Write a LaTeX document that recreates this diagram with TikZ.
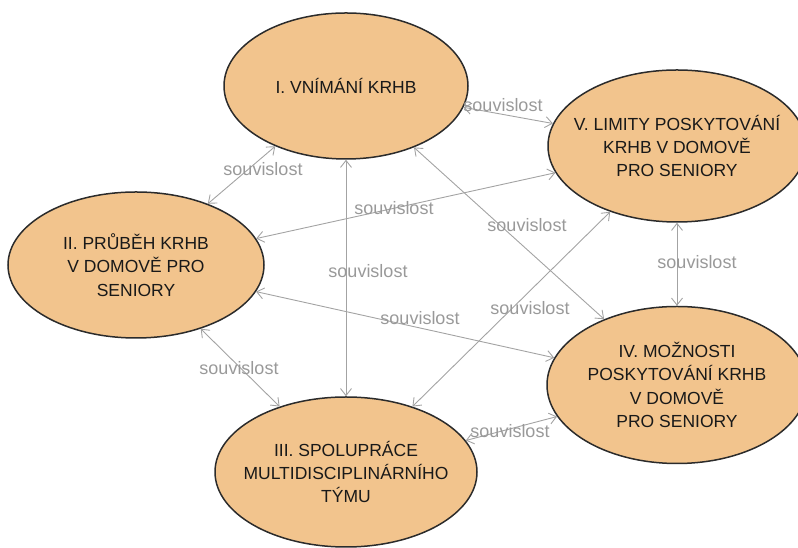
\documentclass[tikz,border=0pt]{standalone}
\usepackage{fontspec}
\setmainfont{Liberation Sans}
\usetikzlibrary{shapes.geometric}
\usetikzlibrary{arrows.meta}
\definecolor{mpeach}{HTML}{F2C48D}
\definecolor{medge}{HTML}{2B2B2B}
\definecolor{mline}{HTML}{A3A3A3}
\definecolor{mtext}{HTML}{999999}
\tikzset{blob/.style = {ellipse, draw=medge, line width=1.5pt, fill=mpeach,
                        inner xsep=-40pt, inner ysep=-20pt, align=center,
                        font=\fontsize{17.5}{23.3}\selectfont, text=black!90}}
\tikzset{lnk/.style = {{Straight Barb[length=7pt,width=11pt]}-{Straight Barb[length=7pt,width=11pt]},
                       draw=mline, line width=0.9pt}}
\tikzset{lab/.style = {text=mtext, inner sep=0, font=\fontsize{18}{20}\selectfont}}

\begin{document}
\begin{tikzpicture}[x=1pt, y=1pt]
  \useasboundingbox (0,0) rectangle (798,548);
  % the five topics
  \node[blob, minimum width=244pt, minimum height=146pt]
    (vnimani) at (346,462) {I. VNÍMÁNÍ KRHB};
  \node[blob, minimum width=258pt, minimum height=152pt]
    (limity) at (677,402) {V. LIMITY POSKYTOVÁNÍ\\KRHB V DOMOVĚ\\PRO SENIORY};
  \node[blob, minimum width=256pt, minimum height=146pt]
    (prubeh) at (136,283) {II. PRŮBĚH KRHB\\V DOMOVĚ PRO\\SENIORY};
  \node[blob, minimum width=260pt, minimum height=157pt]
    (moznosti) at (677,163) {IV. MOŽNOSTI\\POSKYTOVÁNÍ KRHB\\V DOMOVĚ\\PRO SENIORY};
  \node[blob, minimum width=262pt, minimum height=150pt]
    (spoluprace) at (346,76) {III. SPOLUPRÁCE\\MULTIDISCIPLINÁRNÍHO\\TÝMU};
  % connectors
  \draw[lnk] (vnimani) -- (prubeh);
  \draw[lnk] (vnimani) -- (limity);
  \draw[lnk] (vnimani) -- (spoluprace);
  \draw[lnk] (vnimani) -- (moznosti);
  \draw[lnk] (prubeh) -- (limity);
  \draw[lnk] (prubeh) -- (moznosti);
  \draw[lnk] (prubeh) -- (spoluprace);
  \draw[lnk] (spoluprace) -- (limity);
  \draw[lnk] (spoluprace) -- (moznosti);
  \draw[lnk] (limity) -- (moznosti);
  % labels
  \node[lab] (s1) at (263,379) {souvislost};
  \node[lab] (s2) at (503,443) {souvislost};
  \node[lab] (s3) at (368,277) {souvislost};
  \node[lab] (s4) at (527,323) {souvislost};
  \node[lab] (s5) at (394,340) {souvislost};
  \node[lab] (s6) at (420,230) {souvislost};
  \node[lab] (s7) at (239,180) {souvislost};
  \node[lab] (s8) at (530,240) {souvislost};
  \node[lab] (s9) at (510,117) {souvislost};
  \node[lab] (s10) at (697,286) {souvislost};
\end{tikzpicture}
\end{document}
